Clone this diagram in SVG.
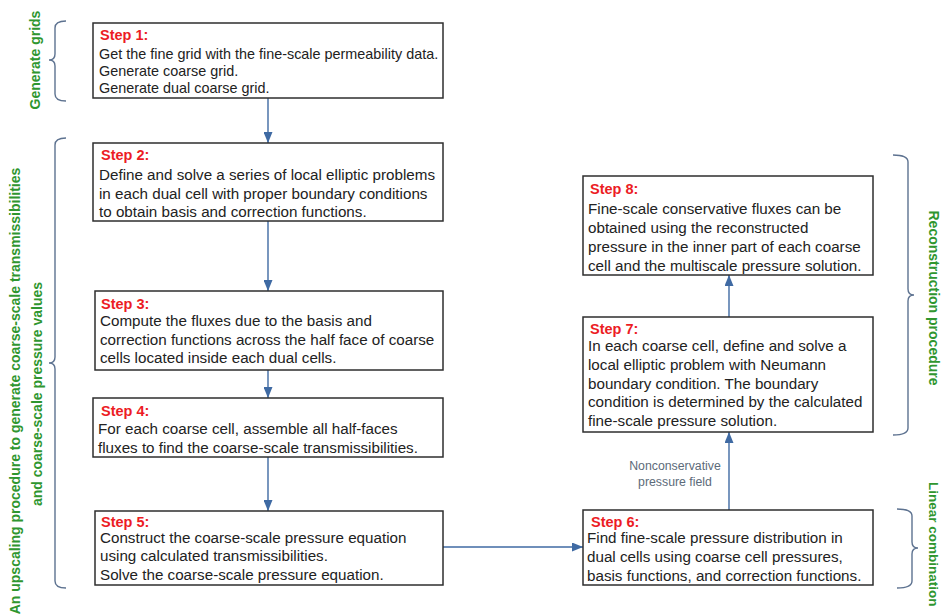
<svg xmlns="http://www.w3.org/2000/svg" width="942" height="615" viewBox="0 0 942 615">
<defs>
<style>
.box{fill:#fff;stroke:#2e2e2e;stroke-width:1.5}
.lbl{font-family:"Liberation Sans",Arial,sans-serif;font-weight:bold;font-size:14.5px;fill:#ec1c24}
.txt{font-family:"Liberation Sans",Arial,sans-serif;font-size:15.2px;fill:#222}
.t1{font-size:14.4px}
.grn{font-family:"Liberation Sans",Arial,sans-serif;font-weight:bold;font-size:14px;fill:#2f962f}
.brace{fill:none;stroke:#5d7290;stroke-width:1.4}
.conn{fill:none;stroke:#3f6aa3;stroke-width:1.4}
.note{font-family:"Liberation Sans",Arial,sans-serif;font-size:12.3px;fill:#5d6b7a}
</style>
<marker id="ah" viewBox="0 0 11 9" markerWidth="11" markerHeight="9" refX="11" refY="4.5" orient="auto" markerUnits="userSpaceOnUse">
<path d="M0,0 L11,4.5 L0,9 z" fill="#3f6aa3"/>
</marker>
</defs>
<rect width="942" height="615" fill="#fff"/>

<g id="braces">
<path class="brace" d="M66,21 Q55,21 55,28 L55,54 Q55,60 49,60 Q55,60 55,66 L55,94 Q55,101 66,101"/>
<path class="brace" d="M66,138 Q55,138 55,145 L55,357 Q55,363 49,363 Q55,363 55,369 L55,581 Q55,588 66,588"/>
<path class="brace" d="M893,155 Q908,155 908,162 L908,289 Q908,295 914,295 Q908,295 908,301 L908,428 Q908,435 893,435"/>
<path class="brace" d="M897,509 Q912,509 912,516 L912,542 Q912,548 918,548 Q912,548 912,554 L912,581 Q912,588 897,588"/>
</g>

<g id="group-labels">
<text class="grn" transform="translate(40,60) rotate(-90)" text-anchor="middle">Generate grids</text>
<text class="grn" transform="translate(20,391) rotate(-90)" text-anchor="middle">An upscaling procedure to generate coarse-scale transmissibilities</text>
<text class="grn" transform="translate(42,394) rotate(-90)" text-anchor="middle">and coarse-scale pressure values</text>
<text class="grn" transform="translate(929,298) rotate(90)" text-anchor="middle">Reconstruction procedure</text>
<text class="grn" style="font-size:13.5px" transform="translate(929,482) rotate(90)">Linear combination</text>
</g>

<g id="connectors">
<line class="conn" x1="268" y1="98" x2="268" y2="143" marker-end="url(#ah)"/>
<line class="conn" x1="268" y1="221" x2="268" y2="291" marker-end="url(#ah)"/>
<line class="conn" x1="268" y1="370" x2="268" y2="398" marker-end="url(#ah)"/>
<line class="conn" x1="268" y1="457" x2="268" y2="511" marker-end="url(#ah)"/>
<line class="conn" x1="443" y1="547" x2="583" y2="547" marker-end="url(#ah)"/>
<line class="conn" x1="729" y1="510" x2="729" y2="432" marker-end="url(#ah)"/>
<line class="conn" x1="729" y1="317" x2="729" y2="275" marker-end="url(#ah)"/>
<text class="note" x="675" y="470" text-anchor="middle">Nonconservative</text>
<text class="note" x="675" y="486" text-anchor="middle">pressure field</text>
</g>

<g id="step1">
<rect class="box" x="93" y="23" width="350" height="75"/>
<text class="lbl" x="100" y="40">Step 1:</text>
<text class="txt t1" x="99" y="59">Get the fine grid with the fine-scale permeability data.</text>
<text class="txt t1" x="99" y="76">Generate coarse grid.</text>
<text class="txt t1" x="99" y="93">Generate dual coarse grid.</text>
</g>

<g id="step2">
<rect class="box" x="93" y="143" width="350" height="78"/>
<text class="lbl" x="101" y="159.5">Step 2:</text>
<text class="txt" x="99" y="180">Define and solve a series of local elliptic problems</text>
<text class="txt" x="99" y="198.5">in each dual cell with proper boundary conditions</text>
<text class="txt" x="99" y="217">to obtain basis and correction functions.</text>
</g>

<g id="step3">
<rect class="box" x="95" y="291" width="348" height="79"/>
<text class="lbl" x="101" y="308.5">Step 3:</text>
<text class="txt" x="100" y="326">Compute the fluxes due to the basis and</text>
<text class="txt" x="100" y="344.5">correction functions across the half face of coarse</text>
<text class="txt" x="100" y="363">cells located inside each dual cells.</text>
</g>

<g id="step4">
<rect class="box" x="93" y="398" width="350" height="59"/>
<text class="lbl" x="101" y="415.5">Step 4:</text>
<text class="txt" x="98" y="434">For each coarse cell, assemble all half-faces</text>
<text class="txt" x="98" y="453">fluxes to find the coarse-scale transmissibilities.</text>
</g>

<g id="step5">
<rect class="box" x="95" y="511" width="348" height="74"/>
<text class="lbl" x="101" y="526.5">Step 5:</text>
<text class="txt" x="100" y="542.5">Construct the coarse-scale pressure equation</text>
<text class="txt" x="100" y="561">using calculated transmissibilities.</text>
<text class="txt" x="100" y="579.5">Solve the coarse-scale pressure equation.</text>
</g>

<g id="step6">
<rect class="box" x="583" y="510" width="290" height="75"/>
<text class="lbl" x="591" y="527">Step 6:</text>
<text class="txt" x="587" y="543">Find fine-scale pressure distribution in</text>
<text class="txt" x="587" y="562">dual cells using coarse cell pressures,</text>
<text class="txt" x="587" y="580.5">basis functions, and correction functions.</text>
</g>

<g id="step7">
<rect class="box" x="583" y="317" width="290" height="115"/>
<text class="lbl" x="590" y="333.5">Step 7:</text>
<text class="txt" x="588" y="351">In each coarse cell, define and solve a</text>
<text class="txt" x="588" y="370">local elliptic problem with Neumann</text>
<text class="txt" x="588" y="388.5">boundary condition. The boundary</text>
<text class="txt" x="588" y="407">condition is determined by the calculated</text>
<text class="txt" x="588" y="426">fine-scale pressure solution.</text>
</g>

<g id="step8">
<rect class="box" x="583" y="176" width="290" height="99"/>
<text class="lbl" x="590" y="193.5">Step 8:</text>
<text class="txt" x="588" y="214">Fine-scale conservative fluxes can be</text>
<text class="txt" x="588" y="233">obtained using the reconstructed</text>
<text class="txt" x="588" y="252">pressure in the inner part of each coarse</text>
<text class="txt" x="588" y="271">cell and the multiscale pressure solution.</text>
</g>
</svg>
